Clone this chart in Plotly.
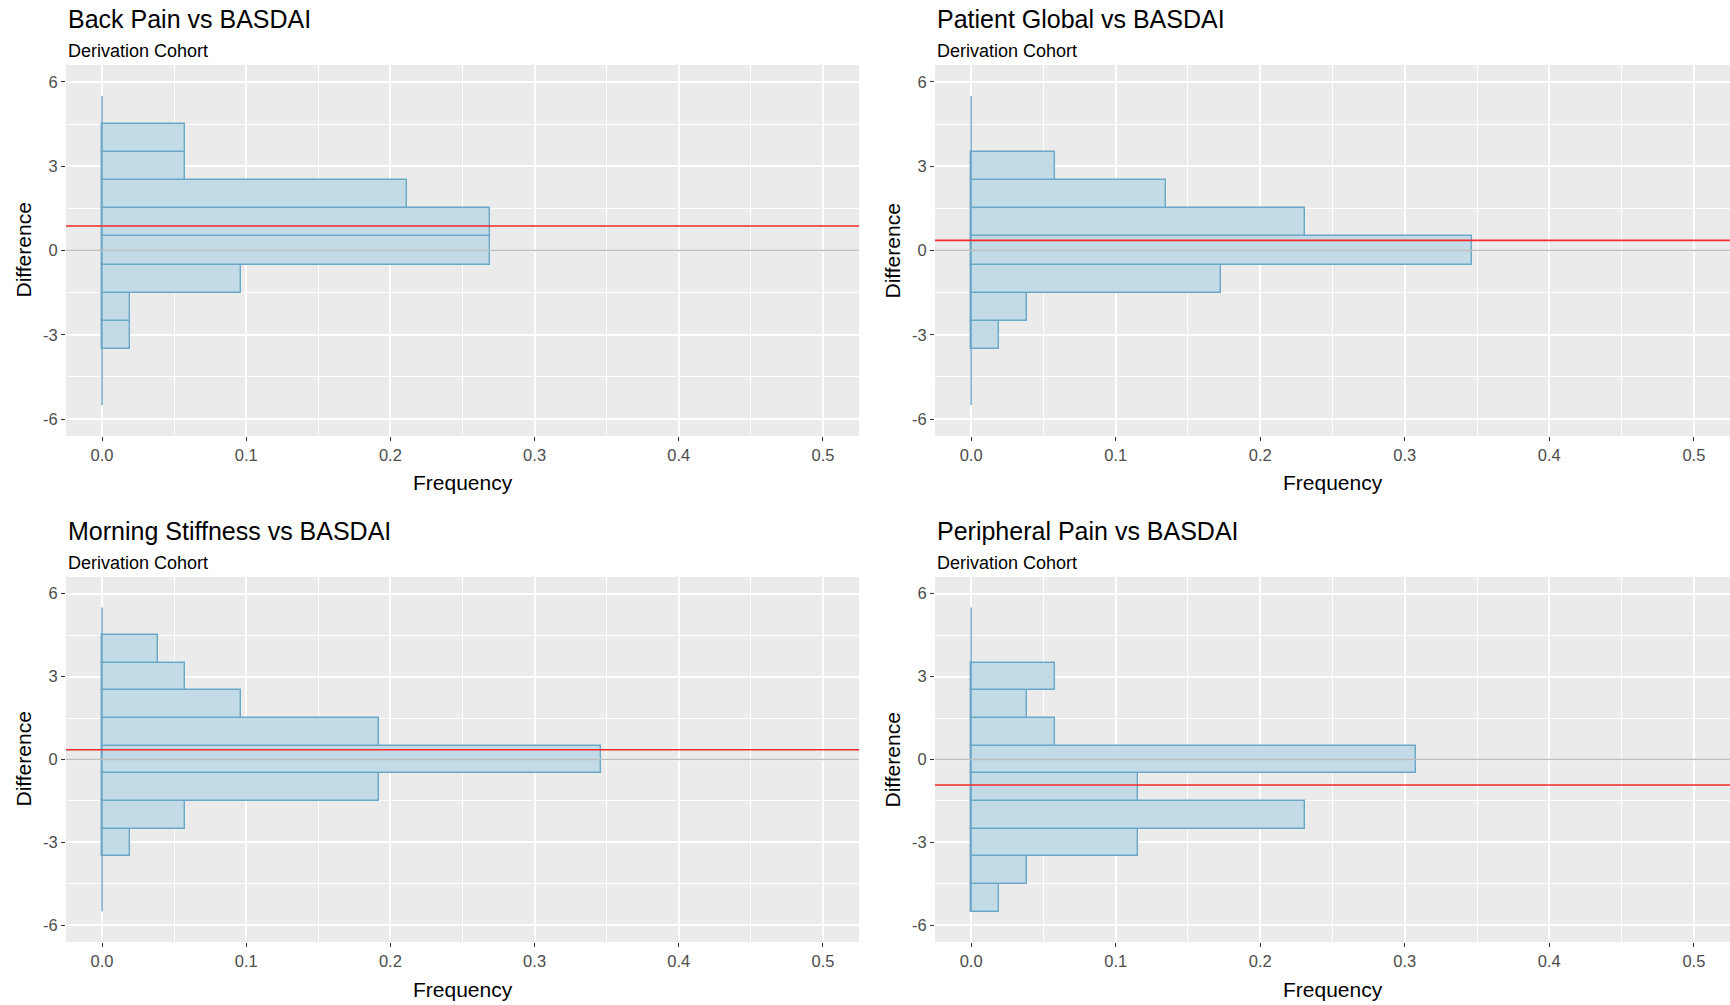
import plotly.graph_objects as go

# ---- data ----
bin_centers = [-5, -4, -3, -2, -1, 0, 1, 2, 3, 4, 5]

titles = ["Back Pain vs BASDAI", "Patient Global vs BASDAI",
          "Morning Stiffness vs BASDAI", "Peripheral Pain vs BASDAI"]
subtitle = "Derivation Cohort"

freq_back_pain = [0, 0, 0.0192, 0.0192, 0.0962, 0.2692, 0.2692, 0.2115, 0.0577, 0.0577, 0]
freq_patient_global = [0, 0, 0.0192, 0.0385, 0.1731, 0.3462, 0.2308, 0.1346, 0.0577, 0, 0]
freq_morning_stiffness = [0, 0, 0.0192, 0.0577, 0.1923, 0.3462, 0.1923, 0.0962, 0.0577, 0.0385, 0]
freq_peripheral_pain = [0.0192, 0.0385, 0.1154, 0.2308, 0.1154, 0.3077, 0.0577, 0.0385, 0.0577, 0, 0]

mean_diff = [0.87, 0.36, 0.35, -0.92]

x_ticks = [0.0, 0.1, 0.2, 0.3, 0.4, 0.5]
y_ticks = [-6, -3, 0, 3, 6]

x_label = "Frequency"
y_label = "Difference"

freqs = [freq_back_pain, freq_patient_global, freq_morning_stiffness, freq_peripheral_pain]

# ---- layout geometry (pixels) ----
W, H = 1730, 1005
panels = [  # (left, right, top, bottom) in px
    (66, 859, 65, 436),
    (935, 1730, 65, 436),
    (66, 859, 577, 942),
    (935, 1730, 577, 942),
]

FONT = "Liberation Sans, Arial, sans-serif"
fill_col = "#C3DBE6"
line_col = "#6BA7C7"

fig = go.Figure()
annotations = []
shapes = []

for i, (f, (l, r, t, b)) in enumerate(zip(freqs, panels)):
    xa = "x" if i == 0 else f"x{i+1}"
    ya = "y" if i == 0 else f"y{i+1}"
    xname = "xaxis" if i == 0 else f"xaxis{i+1}"
    yname = "yaxis" if i == 0 else f"yaxis{i+1}"

    # bars (non-empty bins)
    ys = [c for c, v in zip(bin_centers, f) if v > 0]
    xs = [v for v in f if v > 0]
    fig.add_trace(go.Bar(
        x=xs, y=ys, orientation="h", width=1, base=0,
        marker=dict(color=fill_col, line=dict(color=line_col, width=1.4)),
        xaxis=xa, yaxis=ya, showlegend=False, hoverinfo="skip"))
    # zero-height bins outline at x=0 across the full bin range
    fig.add_trace(go.Scatter(
        x=[0, 0], y=[bin_centers[0] - 0.5, bin_centers[-1] + 0.5],
        mode="lines", line=dict(color=line_col, width=1.4),
        xaxis=xa, yaxis=ya, showlegend=False, hoverinfo="skip"))

    dom_x = [l / W, r / W]
    dom_y = [1 - b / H, 1 - t / H]
    fig.layout[xname] = dict(
        domain=dom_x, anchor=ya, range=[-0.025, 0.525],
        tickvals=x_ticks, ticktext=[f"{v:.1f}" for v in x_ticks],
        showgrid=True, gridcolor="white", gridwidth=1.6,
        minor=dict(dtick=0.05, tick0=0, showgrid=True, gridcolor="white", gridwidth=0.8, ticks=""),
        zeroline=False, ticks="outside", ticklen=4, tickwidth=1.2, tickcolor="#333333",
        tickfont=dict(family=FONT, size=16.5, color="#4D4D4D"),
        showline=False, fixedrange=True)
    fig.layout[yname] = dict(
        domain=dom_y, anchor=xa, range=[-6.6, 6.6],
        tickvals=y_ticks, ticktext=[str(v) for v in y_ticks],
        showgrid=True, gridcolor="white", gridwidth=1.6,
        minor=dict(dtick=1.5, tick0=0, showgrid=True, gridcolor="white", gridwidth=0.8, ticks=""),
        zeroline=False, ticks="outside", ticklen=4, tickwidth=1.2, tickcolor="#333333",
        tickfont=dict(family=FONT, size=16.5, color="#4D4D4D"),
        showline=False, fixedrange=True)

    # panel background
    shapes.append(dict(type="rect", xref=f"{xa} domain", yref=f"{ya} domain",
                       x0=0, x1=1, y0=0, y1=1, fillcolor="#EBEBEB",
                       line=dict(width=0), layer="below"))
    # reference line at 0 and mean line
    shapes.append(dict(type="line", xref=f"{xa} domain", yref=ya, x0=0, x1=1,
                       y0=0, y1=0, line=dict(color="#BEBEBE", width=1.5), layer="above"))
    shapes.append(dict(type="line", xref=f"{xa} domain", yref=ya, x0=0, x1=1,
                       y0=mean_diff[i], y1=mean_diff[i],
                       line=dict(color="#F52A2A", width=1.6), layer="above"))

    # titles
    annotations.append(dict(text=titles[i], xref="paper", yref="paper",
                            x=l / W, y=1 - (t - 46) / H, xanchor="left", yanchor="middle",
                            showarrow=False, font=dict(family=FONT, size=25, color="black")))
    annotations.append(dict(text=subtitle, xref="paper", yref="paper",
                            x=l / W, y=1 - (t - 14) / H, xanchor="left", yanchor="middle",
                            showarrow=False, font=dict(family=FONT, size=18, color="black")))
    # axis titles
    annotations.append(dict(text=x_label, xref="paper", yref="paper",
                            x=(l + r) / 2 / W, y=1 - (b + 47) / H, xanchor="center", yanchor="middle",
                            showarrow=False, font=dict(family=FONT, size=21, color="black")))
    annotations.append(dict(text=y_label, xref="paper", yref="paper",
                            x=(l - 43) / W, y=1 - (t + b) / 2 / H, xanchor="center", yanchor="middle",
                            textangle=-90, showarrow=False,
                            font=dict(family=FONT, size=21, color="black")))

fig.update_layout(
    width=W, height=H, margin=dict(l=0, r=0, t=0, b=0),
    paper_bgcolor="white", plot_bgcolor="rgba(0,0,0,0)",
    bargap=0, barmode="overlay",
    shapes=shapes, annotations=annotations,
    font=dict(family=FONT),
)

fig.write_html(
    "out.html",
    config={"displayModeBar": False},
    post_script="document.body.style.margin='0';document.body.style.overflow='hidden';",
)
